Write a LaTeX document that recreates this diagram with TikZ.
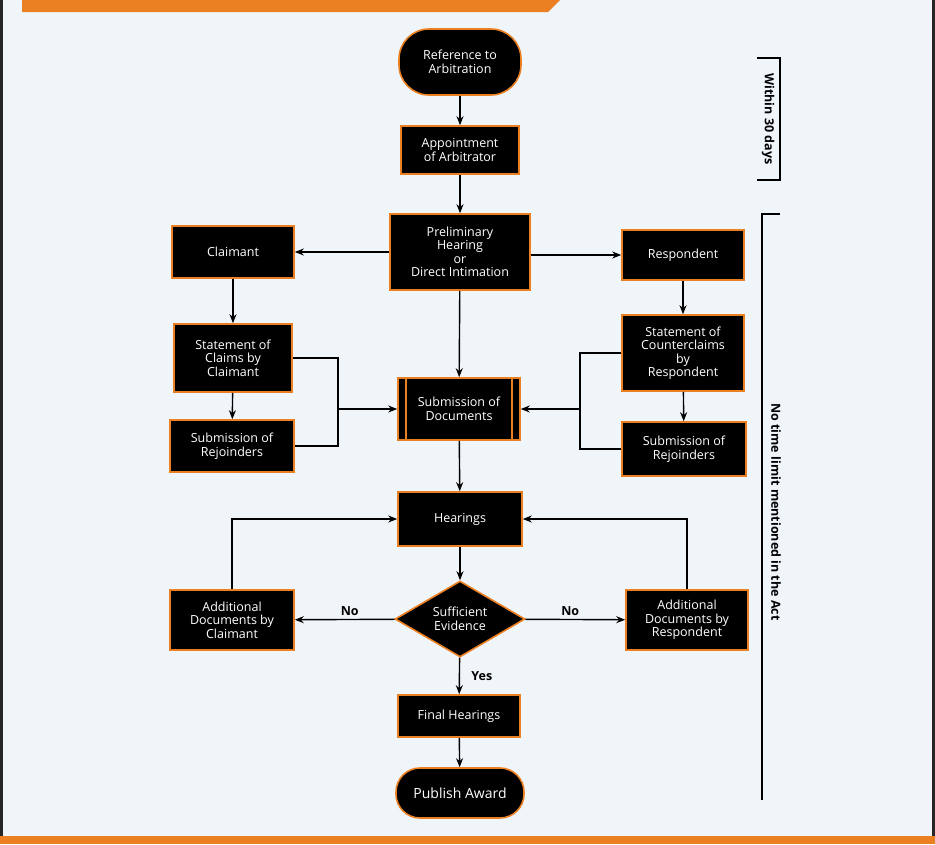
\documentclass[tikz,border=0pt]{standalone}
\usepackage{fontspec}
\setmainfont{Open Sans}
\usetikzlibrary{shapes.geometric,arrows.meta}
\definecolor{bg}{HTML}{F0F5FA}
\definecolor{org}{HTML}{EB8023}
\begin{document}
\begin{tikzpicture}[x=1pt,y=-1pt,
  box/.style={draw=org,line width=1.6pt,fill=black,text=white,align=center,font=\fontsize{12.5}{13.5}\selectfont,inner sep=2pt},
  rb/.style={box,rounded corners=22pt},
  ar/.style={-{Stealth[length=9pt,width=7pt]},line width=1.4pt},
  ln/.style={line width=1.4pt},
  lab/.style={font=\fontsize{12.5}{14}\selectfont\bfseries}]
\fill[black!85] (0,0) rectangle (935,844);
\fill[bg] (3,0) rectangle (932,844);
\fill[org] (22,0) -- (560,0) -- (548,12) -- (22,12) -- cycle;
\fill[org] (0,836) rectangle (935,844);
\node[rb,minimum width=122pt,minimum height=66pt,rounded corners=30pt] (ref) at (460,62) {Reference to\\Arbitration};
\node[box,minimum width=118pt,minimum height=48pt] (app) at (460,150) {Appointment\\of Arbitrator};
\node[box,minimum width=140pt,minimum height=76pt] (pre) at (460,252) {Preliminary\\Hearing\\or\\Direct Intimation};
\node[box,minimum width=122pt,minimum height=52pt] (cl) at (233,252) {Claimant};
\node[box,minimum width=122pt,minimum height=50pt] (re) at (683,255) {Respondent};
\node[box,minimum width=118pt,minimum height=68pt] (sc) at (233,358) {Statement of\\Claims by\\Claimant};
\node[box,minimum width=124pt,minimum height=52pt] (rl) at (232,446) {Submission of\\Rejoinders};
\node[box,minimum width=122pt,minimum height=62pt] (doc) at (459,409) {Submission of\\Documents};
\draw[org,line width=1.6pt] ([xshift=9pt]doc.north west) -- ([xshift=9pt]doc.south west) ([xshift=-9pt]doc.north east) -- ([xshift=-9pt]doc.south east);
\node[box,minimum width=122pt,minimum height=76pt] (scc) at (683,353) {Statement of\\Counterclaims\\by\\Respondent};
\node[box,minimum width=124pt,minimum height=54pt] (rr) at (684,449) {Submission of\\Rejoinders};
\node[box,minimum width=124pt,minimum height=54pt] (hr) at (460,519) {Hearings};
\node[box,diamond,aspect=1.7,minimum width=130pt,minimum height=76pt,inner sep=0pt] (se) at (460,619) {Sufficient\\Evidence};
\node[box,minimum width=124pt,minimum height=60pt] (ac) at (232,620) {Additional\\Documents by\\Claimant};
\node[box,minimum width=122pt,minimum height=60pt] (arr) at (687,620) {Additional\\Documents by\\Respondent};
\node[box,minimum width=122pt,minimum height=42pt] (fh) at (459,716) {Final Hearings};
\node[rb,minimum width=128pt,minimum height=50pt,rounded corners=24pt,font=\fontsize{14}{15}\selectfont] (pa) at (460,793) {Publish Award};
\draw[ar] (ref) -- (app);
\draw[ar] (app) -- (pre);
\draw[ar] (pre) -- (cl);
\draw[ar] (pre.east|-re) -- (re);
\draw[ar] (cl) -- (sc);
\draw[ar] (re) -- (scc);
\draw[ar] (sc) -- (rl);
\draw[ar] (scc) -- (rr);
\draw[ar] (pre) -- (doc);
\coordinate (lm) at (338,409);
\coordinate (rm) at (580,409);
\draw[ln] (sc.east) -- (338,358) -- (338,446) -- (rl.east);
\draw[ar] (lm) -- (doc);
\draw[ln] (scc.west) -- (580,353) -- (580,449) -- (rr.west);
\draw[ar] (rm) -- (doc);
\draw[ar] (doc) -- (hr);
\draw[ar] (hr) -- (se);
\draw[ar] (se) -- node[lab,above,pos=0.45]{No} (ac);
\draw[ar] (se) -- node[lab,above,pos=0.45]{No} (arr);
\draw[ar] (se) -- node[lab,right,xshift=8pt]{Yes} (fh);
\draw[ar] (fh) -- (pa);
\draw[ar] (ac.north) -- (ac.north|-hr) -- (hr);
\draw[ar] (arr.north) -- (arr.north|-hr) -- (hr);
\draw[line width=1.2pt] (757,58) -- (780,58) -- (780,180) -- (757,180);
\node[lab,rotate=-90] (w30) at (768,119) {Within 30 days};
\draw[line width=1.2pt] (780,214) -- (762,214) -- (762,800);
\node[lab,rotate=-90] (nt) at (776,512) {No time limit mentioned in the Act};
\end{tikzpicture}
\end{document}
